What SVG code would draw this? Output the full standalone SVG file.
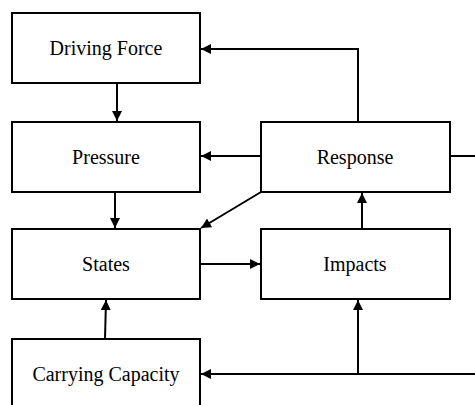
<svg xmlns="http://www.w3.org/2000/svg" width="475" height="405" viewBox="0 0 475 405">
<style>
.box{fill:#fff;stroke:#000;stroke-width:2}
.lbl{font-family:"Liberation Serif","Times New Roman","DejaVu Serif",serif;font-size:20px;fill:#000;text-anchor:middle}
.c{fill:none;stroke:#000;stroke-width:2}
</style>
<defs>
<marker id="ah" viewBox="0 0 10 10" refX="10" refY="5" markerWidth="10" markerHeight="10" markerUnits="userSpaceOnUse" orient="auto">
<path d="M0,0 L10,5 L0,10 z" fill="#000"/>
</marker>
</defs>
<rect width="475" height="405" fill="#fff"/>
<g id="connectors">
<path class="c" d="M358,122 V49 H201" marker-end="url(#ah)"/>
<path class="c" d="M261,156 H201" marker-end="url(#ah)"/>
<path class="c" d="M450,156 H476"/>
<path class="c" d="M117,83 V121" marker-end="url(#ah)"/>
<path class="c" d="M115,192 V228" marker-end="url(#ah)"/>
<path class="c" d="M261,192 L201,228" marker-end="url(#ah)"/>
<path class="c" d="M200,264 H260" marker-end="url(#ah)"/>
<path class="c" d="M362,229 V193" marker-end="url(#ah)"/>
<path class="c" d="M105,339 L106,300" marker-end="url(#ah)"/>
<path class="c" d="M476,374 H201" marker-end="url(#ah)"/>
<path class="c" d="M358,374 V300" marker-end="url(#ah)"/>
</g>
<g id="driving-force"><rect class="box" x="12" y="13" width="188" height="70"/><text class="lbl" x="106" y="55">Driving Force</text></g>
<g id="pressure"><rect class="box" x="12" y="122" width="188" height="70"/><text class="lbl" x="106" y="164">Pressure</text></g>
<g id="states"><rect class="box" x="12" y="229" width="188" height="70"/><text class="lbl" x="106" y="271">States</text></g>
<g id="carrying-capacity"><rect class="box" x="12" y="339" width="188" height="70"/><text class="lbl" x="106" y="381">Carrying Capacity</text></g>
<g id="response"><rect class="box" x="261" y="122" width="189" height="70"/><text class="lbl" x="355" y="164">Response</text></g>
<g id="impacts"><rect class="box" x="261" y="229" width="189" height="70"/><text class="lbl" x="355" y="271">Impacts</text></g>
</svg>
